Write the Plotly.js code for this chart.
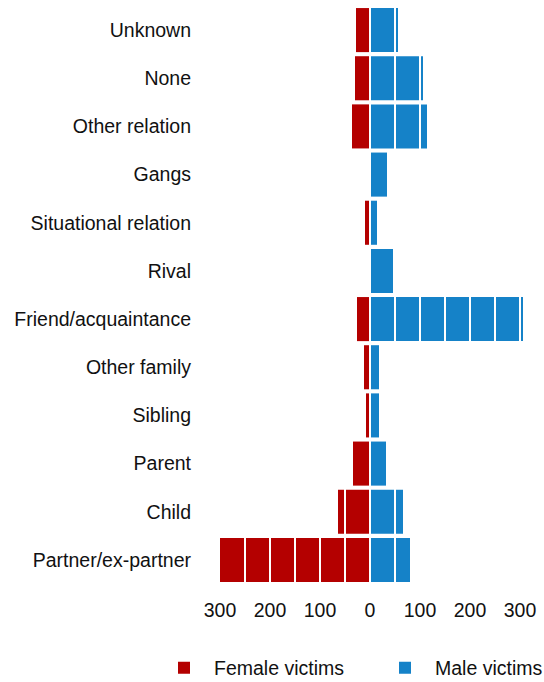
<!DOCTYPE html>
<html>
<head>
<meta charset="utf-8">
<script src="https://cdn.plot.ly/plotly-3.0.1.min.js"></script>
<style>html,body{margin:0;padding:0;background:#fff}#chart{width:544px;height:682px}</style>
</head>
<body>
<div id="chart"></div>
<script>
const categories = ["Unknown","None","Other relation","Gangs","Situational relation","Rival","Friend/acquaintance","Other family","Sibling","Parent","Child","Partner/ex-partner"];
const femaleVictims = [28,30,36,0,10,0,26,12,8,34,64,300];
const maleVictims = [56,106,114,34,14,46,306,18,18,32,66,80];
const tickValues = [-300,-200,-100,0,100,200,300];
const tickLabels = ["300","200","100","0","100","200","300"];
const separatorSteps = [-250,-200,-150,-100,-50,0,50,100,150,200,250,300];

const font = {family: "Liberation Sans, Arial, sans-serif", size: 19.5, color: "#111"};

const traces = [
  {type: "bar", orientation: "h", name: "Female victims", y: categories,
   x: femaleVictims.map(v => -v), marker: {color: "#b40000"}, hoverinfo: "skip", legend: "legend"},
  {type: "bar", orientation: "h", name: "Male victims", y: categories,
   x: maleVictims, marker: {color: "#1582c8"}, hoverinfo: "skip", legend: "legend2"}
];

const shapes = separatorSteps.map(v => ({
  type: "line", xref: "x", yref: "paper", x0: v, x1: v, y0: 0, y1: 1,
  line: {color: "#ffffff", width: 2}, layer: "above"
}));

const legendBase = {orientation: "h", xref: "container", yref: "container", xanchor: "left",
  y: 14 / 682, yanchor: "middle", font: font, itemwidth: 50, bgcolor: "rgba(0,0,0,0)"};

const layout = {
  width: 544, height: 682,
  margin: {l: 220, r: 14, t: 6, b: 98},
  paper_bgcolor: "#fff", plot_bgcolor: "#fff",
  font: font,
  barmode: "relative",
  bargap: 0.085,
  showlegend: true,
  legend: Object.assign({}, legendBase, {x: 154 / 544}),
  legend2: Object.assign({}, legendBase, {x: 375 / 544}),
  xaxis: {range: [-300, 320], tickvals: tickValues, ticktext: tickLabels,
          showgrid: false, zeroline: false, showline: false, ticks: "",
          ticklabelstandoff: 12, fixedrange: true},
  yaxis: {autorange: "reversed", showgrid: false, zeroline: false, showline: false,
          ticks: "", ticklabelstandoff: 28, fixedrange: true},
  shapes: shapes
};

Plotly.newPlot("chart", traces, layout, {displayModeBar: false, staticPlot: true});
</script>
</body>
</html>
